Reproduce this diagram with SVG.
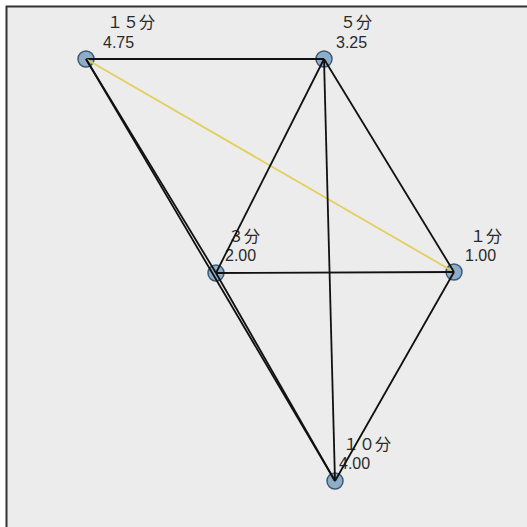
<svg xmlns="http://www.w3.org/2000/svg" width="527" height="527" viewBox="0 0 527 527">
<style>
.e{stroke:#111;stroke-width:1.8;fill:none}
.y{stroke:#e3cf5c;stroke-width:1.8;fill:none}
.n{fill:#8eadc9;stroke:#3e5a72;stroke-width:1.5}
.t{font-family:"Liberation Sans","Noto Sans CJK JP",sans-serif;font-size:16px;fill:#2a2a2a}
</style>
<rect x="0" y="0" width="527" height="527" fill="#ffffff"/>
<rect x="6" y="6" width="530" height="530" fill="#ececec"/>
<path d="M6.5 527V6.5H527" stroke="#333" stroke-width="2" fill="none"/>
<g id="n15"><circle class="n" cx="86" cy="59" r="8"/><text class="t" x="107" y="28">１５分</text><text class="t" x="103" y="48">4.75</text></g>
<g id="n5"><circle class="n" cx="324" cy="59" r="8"/><text class="t" x="340" y="28">５分</text><text class="t" x="336" y="48">3.25</text></g>
<g id="n3"><circle class="n" cx="216" cy="273" r="8"/><text class="t" x="228" y="242">３分</text><text class="t" x="225" y="261">2.00</text></g>
<g id="n1"><circle class="n" cx="454" cy="272" r="8"/><text class="t" x="470" y="242">１分</text><text class="t" x="465" y="261">1.00</text></g>
<g id="n10"><circle class="n" cx="335" cy="481" r="8"/><text class="t" x="343" y="450">１０分</text><text class="t" x="339" y="469">4.00</text></g>
<g id="connectors">
<line class="e" x1="86" y1="59" x2="324" y2="59"/>
<line class="y" x1="86" y1="59" x2="454" y2="272"/>
<line class="e" x1="86" y1="59" x2="216" y2="273"/>
<line class="e" x1="86" y1="59" x2="335" y2="481"/>
<line class="e" x1="324" y1="59" x2="216" y2="273"/>
<line class="e" x1="324" y1="59" x2="454" y2="272"/>
<line class="e" x1="324" y1="59" x2="335" y2="481"/>
<line class="e" x1="216" y1="273" x2="454" y2="272"/>
<line class="e" x1="216" y1="273" x2="335" y2="481"/>
<line class="e" x1="454" y1="272" x2="335" y2="481"/>
</g>
</svg>
